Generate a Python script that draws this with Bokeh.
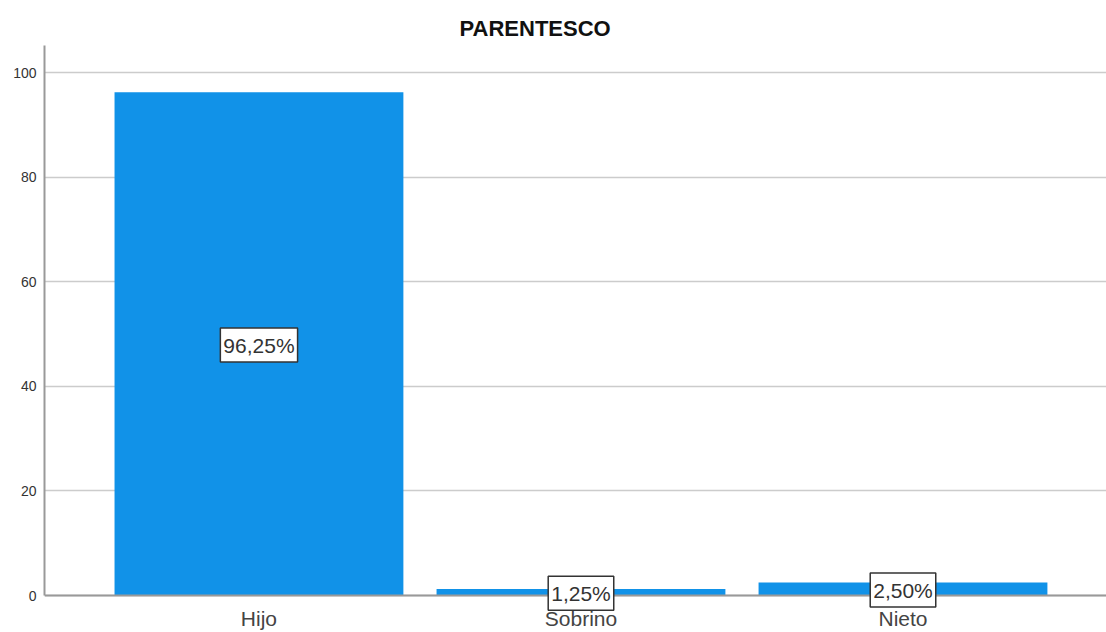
from bokeh.plotting import figure
from bokeh.models import FixedTicker, Label, ColumnDataSource, Range1d, Title, Span
from bokeh.core.properties import value
from bokeh.embed import file_html
from bokeh.resources import INLINE

categories = ["Hijo", "Sobrino", "Nieto"]
percentages = [96.25, 1.25, 2.50]
y_ticks = [0, 20, 40, 60, 80, 100]

xs = list(range(len(categories)))
labels = [f"{v:.2f}%".replace(".", ",") for v in percentages]
src = ColumnDataSource(dict(x=xs, top=percentages))

Y_TOP = 105.2
p = figure(width=1106, height=632, output_backend="svg", toolbar_location=None,
           x_range=Range1d(-0.666, 2.632), y_range=Range1d(-7.07, Y_TOP),
           min_border_left=44, min_border_right=0, min_border_bottom=0, min_border_top=45)
p.title = None
t = Title(text="PARENTESCO", align="left", offset=415, text_font="Liberation Sans",
          text_font_size="22px", text_font_style="bold", text_color="#111111")
p.add_layout(t, "above")

p.vbar(x="x", top="top", width=0.897, bottom=0, source=src, fill_color="#1192e8", line_color=None)

p.add_layout(Span(location=0, dimension="width", line_color="#999999", line_width=2))

p.text(x=xs, y=[0] * len(xs), text=categories, y_offset=23, text_align="center",
       text_baseline="middle", text_font=value("Liberation Sans"), text_font_size="21px",
       text_color="#444444")

for xi, v, lab in zip(xs, percentages, labels):
    p.add_layout(Label(x=xi, y=v / 2, text=lab, text_align="center", text_baseline="middle",
                       text_font="Liberation Sans", text_font_size="21px", text_color="#333333",
                       background_fill_color="white", border_line_color="#333333",
                       border_line_width=1.5, padding=dict(left=3, right=3, top=6, bottom=5),
                       y_offset=-1))

p.outline_line_color = None
p.xgrid.grid_line_color = None
p.xaxis.visible = False
p.ygrid.grid_line_color = "#cccccc"
p.ygrid.grid_line_width = 1.5
p.yaxis.ticker = FixedTicker(ticks=y_ticks)
p.yaxis.bounds = (0, Y_TOP)
p.yaxis.axis_line_color = "#999999"
p.yaxis.axis_line_width = 2
p.yaxis.major_tick_line_color = None
p.yaxis.minor_tick_line_color = None
p.yaxis.major_tick_out = 0
p.yaxis.major_tick_in = 0
p.yaxis.major_label_text_font = "Liberation Sans"
p.yaxis.major_label_text_font_size = "14px"
p.yaxis.major_label_text_color = "#333333"
p.yaxis.major_label_standoff = 8

open("out.html", "w").write(file_html(p, INLINE))
